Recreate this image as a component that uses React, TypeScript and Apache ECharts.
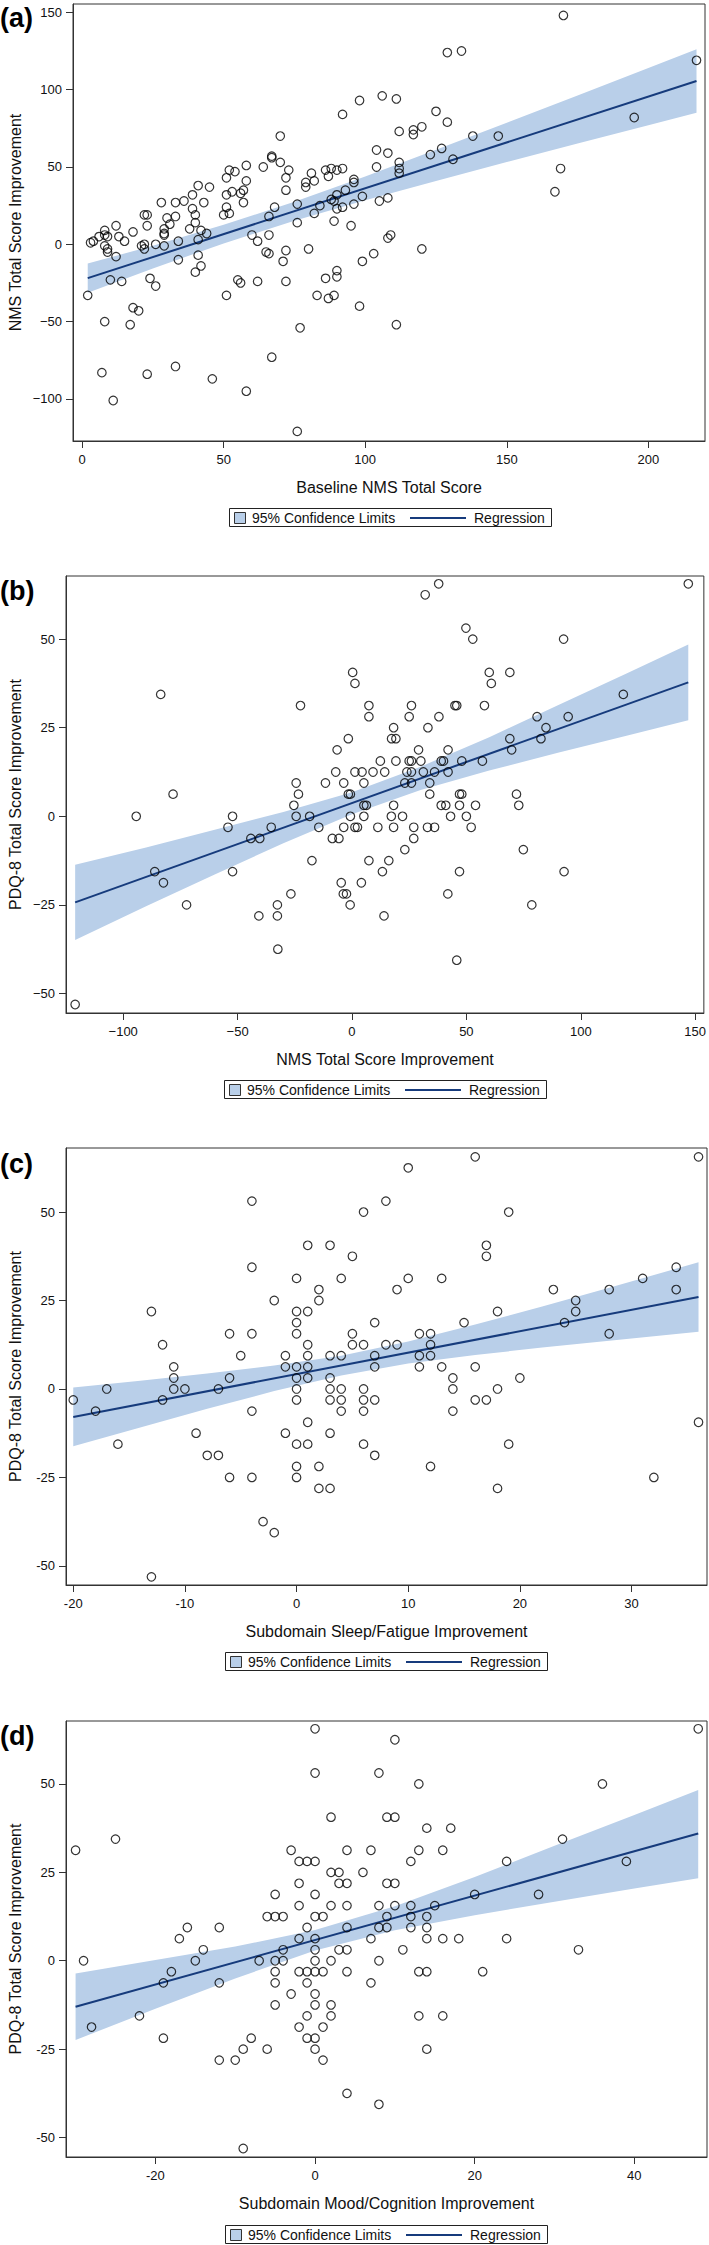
import React, { useEffect, useRef } from "react";
import * as echarts from "echarts";

// ---------------- DATA ----------------
// Panel (a): Baseline NMS Total Score vs NMS Total Score Improvement
const aPoints: number[][] = [
  [170,148],[129,124],[134,125],[217,119],
  [98,93],[106,96],[111,94],[92,84],[125,86],[195,82],[129,79],
  [112,73],[117,74],[117,71],[120,76],[138,70],[147,70],[70,70],
  [104,61],[108,59],[127,62],[123,58],[131,55],
  [67,57],[67,56],[64,50],[70,53],[58,51],
  [104,50],[112,53],[112,49],[112,46],
  [73,48],[72,43],[72,35],
  [52,48],[54,47],[51,43],[58,41],
  [41,38],[45,37],
  [86,48],[88,49],[90,48],[92,49],[81,46],[87,44],[82,41],[79,40],[79,37],
  [96,42],[96,40],
  [57,35],[56,33],[53,34],
  [39,32],[51,32],
  [90,32],[88,29],[99,31],[93,35],
  [28,27],[33,27],[36,28],[43,27],
  [57,27],[51,24],[68,24],[76,26],[96,26],[105,28],[108,30],
  [89,28],[90,23],[92,24],[84,25],
  [39,23],[40,19],[50,19],[52,20],
  [22,19],[23,19],
  [66,18],[82,20],
  [30,17],[33,18],[31,13],
  [40,14],
  [12,12],[23,12],
  [89,15],[76,14],[95,12],
  [29,10],[29,7],[29,6],[18,8],[38,10],
  [42,9],[44,7],[41,3],
  [8,9],[6,5],[9,5],[13,5],[8,6],
  [60,6],[62,2],[66,6],
  [108,4],[109,6],
  [3,1],[4,2],[15,2],[34,2],
  [22,0],
  [169,49],[167,34],
  [8,-1],[9,-3],[9,-5],[12,-8],[21,-1],[22,-3],[26,0],[29,-1],[34,-10],[41,-7],[42,-14],
  [65,-5],[66,-6],[71,-11],[72,-4],[80,-3],
  [99,-11],[103,-6],[120,-3],
  [2,-33],[10,-23],[14,-24],[24,-22],[26,-27],
  [40,-18],[51,-33],[55,-23],[56,-25],[62,-24],[72,-24],
  [86,-22],[90,-17],[90,-21],[83,-33],[87,-35],[89,-33],
  [18,-41],[20,-43],[8,-50],[17,-52],
  [98,-40],[77,-54],[111,-52],
  [67,-73],
  [7,-83],[23,-84],[33,-79],[46,-87],
  [58,-95],[11,-101],
  [76,-121],
];
const aRegression: number[][] = [[2,-21.9],[217,105.6]];
// [x, lower, upper]
const aBand: number[][] = [
  [2,-31.4,-12.4],[25,-15.6,-1.0],[50,0.6,12.6],[75,15.3,27.5],[100,28.5,43.9],
  [125,40.9,61.1],[150,53.2,78.6],[175,65.2,96.2],[200,77.0,114.0],[217,85.0,126.2],
];
const aXTicks = [0,50,100,150,200];
const aYTicks = [-100,-50,0,50,100,150];

// Panel (b): NMS Total Score Improvement vs PDQ-8 Total Score Improvement
const bPoints: number[][] = [
  [37.9,65.6],[32,62.5],[147,65.6],[49.8,53.1],[52.8,50],[92.5,50],
  [0.3,40.6],[60,40.6],[69,40.6],
  [1.3,37.5],[60.9,37.5],
  [-83.6,34.4],[118.6,34.4],
  [-22.5,31.25],[7.4,31.25],[26,31.25],[45,31.25],[45.8,31.25],[57.9,31.25],
  [7.4,28.1],[25,28.1],[38,28.1],[80.9,28.1],[94.5,28.1],
  [18.2,25],[33.2,25],[84.8,25],
  [-1.6,21.9],[17.3,21.9],[19.2,21.9],[69,21.9],[82.6,21.9],
  [-6.5,18.75],[29.1,18.75],[42,18.75],[69.8,18.75],
  [12.4,15.6],[19.2,15.6],[25,15.6],[26,15.6],[30.1,15.6],[39,15.6],[40,15.6],[48,15.6],[57,15.6],
  [-7.1,12.5],[1.3,12.5],[4.4,12.5],[9.2,12.5],[14.3,12.5],[24,12.5],[26,12.5],[31.2,12.5],[36.1,12.5],[42,12.5],
  [-24.4,9.4],[-11.6,9.4],[-3.6,9.4],[5.2,9.4],[23.1,9.4],[26,9.4],[34,9.4],
  [-78.2,6.25],[-23.4,6.25],[-1.6,6.25],[-0.7,6.25],[34,6.25],[47,6.25],[48,6.25],[71.9,6.25],
  [-25.4,3.1],[5.2,3.1],[6.3,3.1],[18.2,3.1],[39,3.1],[41,3.1],[47,3.1],[54,3.1],[72.9,3.1],
  [-94.3,0],[-52.2,0],[-24.4,0],[-18.5,0],[-0.7,0],[5.2,0],[17.2,0],[22.1,0],[43.1,0],[50,0],
  [-54.2,-3.1],[-35.3,-3.1],[-14.5,-3.1],[-3.6,-3.1],[1.3,-3.1],[2.4,-3.1],[11.3,-3.1],[18.2,-3.1],[27,-3.1],[33,-3.1],[36.1,-3.1],[52.1,-3.1],
  [-44.2,-6.25],[-40.3,-6.25],[-8.6,-6.25],[-5.7,-6.25],[27,-6.25],
  [23.1,-9.4],[74.9,-9.4],
  [-17.5,-12.5],[7.4,-12.5],[16.1,-12.5],
  [-86.2,-15.6],[-52.2,-15.6],[13.3,-15.6],[47,-15.6],[92.7,-15.6],
  [-82.4,-18.75],[-4.7,-18.75],[4.1,-18.75],
  [-26.7,-21.9],[-3.8,-21.9],[-2.4,-21.9],[41.9,-21.9],
  [-72.3,-25],[-32.6,-25],[-0.8,-25],[78.6,-25],
  [-40.7,-28.1],[-32.6,-28.1],[14,-28.1],
  [-32.4,-37.5],[45.8,-40.6],[-121,-53.1],
];
const bRegression: number[][] = [[-121,-24.3],[147,37.8]];
const bBand: number[][] = [
  [-121,-34.9,-13.7],[-90,-25.4,-8.8],[-60,-16.4,-3.8],[-30,-7.6,1.2],[0,0.6,6.8],
  [30,7.4,14.0],[60,12.9,22.3],[90,17.9,31.3],[120,22.7,40.3],[147,27.1,48.5],
];
const bXTicks = [-100,-50,0,50,100,150];
const bYTicks = [-50,-25,0,25,50];

// Panel (c): Subdomain Sleep/Fatigue Improvement vs PDQ-8 Total Score Improvement
const cPoints: number[][] = [
  [16,65.6],[36,65.6],[10,62.5],[-4,53.1],[8,53.1],[6,50],[19,50],
  [1,40.6],[3,40.6],[17,40.6],[5,37.5],[17,37.5],
  [-4,34.4],[34,34.4],
  [0,31.25],[4,31.25],[10,31.25],[13,31.25],[31,31.25],
  [2,28.1],[9,28.1],[23,28.1],[28,28.1],[34,28.1],
  [-2,25],[2,25],[25,25],
  [-13,21.9],[0,21.9],[1,21.9],[18,21.9],[25,21.9],
  [0,18.75],[7,18.75],[15,18.75],[24,18.75],
  [-6,15.6],[-4,15.6],[0,15.6],[5,15.6],[11,15.6],[12,15.6],[28,15.6],
  [-12,12.5],[1,12.5],[5,12.5],[6,12.5],[8,12.5],[9,12.5],[12,12.5],
  [-5,9.4],[-1,9.4],[1,9.4],[3,9.4],[4,9.4],[7,9.4],[11,9.4],[12,9.4],
  [-11,6.25],[-1,6.25],[0,6.25],[1,6.25],[7,6.25],[11,6.25],[13,6.25],[16,6.25],
  [-11,3.1],[-6,3.1],[0,3.1],[1,3.1],[3,3.1],[14,3.1],[20,3.1],
  [-17,0],[-11,0],[-10,0],[-7,0],[0,0],[3,0],[4,0],[6,0],[14,0],[18,0],
  [-20,-3.1],[-12,-3.1],[0,-3.1],[3,-3.1],[4,-3.1],[6,-3.1],[7,-3.1],[16,-3.1],[17,-3.1],
  [-18,-6.25],[-4,-6.25],[4,-6.25],[6,-6.25],[14,-6.25],
  [1,-9.4],[36,-9.4],
  [-9,-12.5],[-1,-12.5],[3,-12.5],
  [-16,-15.6],[0,-15.6],[1,-15.6],[6,-15.6],[19,-15.6],
  [-8,-18.75],[-7,-18.75],[7,-18.75],
  [0,-21.9],[2,-21.9],[12,-21.9],
  [-6,-25],[-4,-25],[0,-25],[32,-25],
  [2,-28.1],[3,-28.1],[18,-28.1],
  [-3,-37.5],[-2,-40.6],[-13,-53.1],
];
const cRegression: number[][] = [[-20,-7.9],[36,26]];
const cBand: number[][] = [
  [-20,-16.2,0.4],[-14,-10.9,2.3],[-8,-5.6,4.4],[-2,-0.6,6.6],[4,3.8,9.4],
  [10,7.2,13.4],[16,9.6,18.2],[22,11.7,23.3],[28,13.6,28.6],[36,16.2,35.8],
];
const cXTicks = [-20,-10,0,10,20,30];
const cYTicks = [-50,-25,0,25,50];

// Panel (d): Subdomain Mood/Cognition Improvement vs PDQ-8 Total Score Improvement
const dPoints: number[][] = [
  [0,65.6],[48,65.6],[10,62.5],[0,53.1],[8,53.1],[13,50],[36,50],
  [2,40.6],[9,40.6],[10,40.6],[14,37.5],[17,37.5],
  [-25,34.4],[31,34.4],
  [-30,31.25],[-3,31.25],[4,31.25],[7,31.25],[13,31.25],[16,31.25],
  [-2,28.1],[-1,28.1],[0,28.1],[12,28.1],[24,28.1],[39,28.1],
  [2,25],[3,25],[6,25],
  [-2,21.9],[3,21.9],[4,21.9],[9,21.9],[10,21.9],
  [-5,18.75],[0,18.75],[20,18.75],[28,18.75],
  [-2,15.6],[2,15.6],[4,15.6],[8,15.6],[10,15.6],[12,15.6],[15,15.6],
  [-6,12.5],[-5,12.5],[-4,12.5],[0,12.5],[1,12.5],[9,12.5],[12,12.5],[14,12.5],
  [-16,9.4],[-12,9.4],[-1,9.4],[4,9.4],[8,9.4],[9,9.4],[12,9.4],[14,9.4],
  [-17,6.25],[-2,6.25],[0,6.25],[7,6.25],[14,6.25],[16,6.25],[18,6.25],[24,6.25],
  [-14,3.1],[-4,3.1],[0,3.1],[3,3.1],[4,3.1],[11,3.1],[33,3.1],
  [-29,0],[-15,0],[-7,0],[-5,0],[-4,0],[0,0],[2,0],[8,0],
  [-18,-3.1],[-5,-3.1],[-2,-3.1],[-1,-3.1],[0,-3.1],[1,-3.1],[4,-3.1],[13,-3.1],[14,-3.1],[21,-3.1],
  [-19,-6.25],[-12,-6.25],[-5,-6.25],[-1,-6.25],[7,-6.25],
  [-3,-9.4],[0,-9.4],
  [-5,-12.5],[0,-12.5],[2,-12.5],
  [-22,-15.6],[-1,-15.6],[2,-15.6],[13,-15.6],[16,-15.6],
  [-28,-18.75],[-2,-18.75],[1,-18.75],
  [-19,-21.9],[-8,-21.9],[-1,-21.9],[0,-21.9],
  [-9,-25],[-6,-25],[0,-25],[14,-25],
  [-12,-28.1],[-10,-28.1],[1,-28.1],
  [4,-37.5],[8,-40.6],[-9,-53.1],
];
const dRegression: number[][] = [[-30,-13],[48,36]];
const dBand: number[][] = [
  [-30,-22.4,-3.6],[-20,-13.6,0.2],[-10,-5.0,4.0],[0,2.9,8.7],[10,8.6,15.4],
  [20,12.9,23.7],[30,16.7,32.5],[40,20.4,41.2],[48,23.3,48.3],
];
const dXTicks = [-20,0,20,40];
const dYTicks = [-50,-25,0,25,50];

const panelLetters = ["(a)", "(b)", "(c)", "(d)"];
const xTitles = [
  "Baseline NMS Total Score",
  "NMS Total Score Improvement",
  "Subdomain Sleep/Fatigue Improvement",
  "Subdomain Mood/Cognition Improvement",
];
const yTitles = [
  "NMS Total Score Improvement",
  "PDQ-8 Total Score Improvement",
  "PDQ-8 Total Score Improvement",
  "PDQ-8 Total Score Improvement",
];
const legendBandLabel = "95% Confidence Limits";
const legendLineLabel = "Regression";

// ---------------- STYLE / LAYOUT ----------------
const FONT = '"Liberation Sans", Arial, Helvetica, sans-serif';
const BAND = "#b9cfe9";
const NAVY = "#163b7c";
const AXIS = "#333333";

const layouts = [
  { grid: { left: 73, top: 4, width: 632, height: 437 }, x: [-3.2, 220], y: [-127.2, 155.4], minus: "\u2212", letterY: 4, xTitleY: 487, legend: [229, 508] },
  { grid: { left: 66, top: 576, width: 638, height: 437 }, x: [-125, 153.8], y: [-55.5, 67.8], minus: "\u2212", letterY: 577, xTitleY: 1059, legend: [224, 1080] },
  { grid: { left: 66, top: 1148, width: 641, height: 437 }, x: [-20.65, 36.76], y: [-55.4, 68.1], minus: "-", letterY: 1150, xTitleY: 1631, legend: [225, 1652] },
  { grid: { left: 66, top: 1721, width: 641, height: 436 }, x: [-31.2, 49.1], y: [-55.5, 67.8], minus: "-", letterY: 1722, xTitleY: 2203, legend: [225, 2225] },
];

const panelData = [
  { points: aPoints, reg: aRegression, band: aBand, xt: aXTicks, yt: aYTicks },
  { points: bPoints, reg: bRegression, band: bBand, xt: bXTicks, yt: bYTicks },
  { points: cPoints, reg: cRegression, band: cBand, xt: cXTicks, yt: cYTicks },
  { points: dPoints, reg: dRegression, band: dBand, xt: dXTicks, yt: dYTicks },
];

function buildOption() {
  const grids: any[] = [];
  const xAxes: any[] = [];
  const yAxes: any[] = [];
  const series: any[] = [];
  const graphics: any[] = [];

  panelData.forEach((pd, i) => {
    const L = layouts[i];
    const fmt = (v: number) => (v < 0 ? L.minus + Math.abs(v) : String(v));
    grids.push({ ...L.grid, show: true, borderColor: AXIS, borderWidth: 1, containLabel: false });
    xAxes.push({
      gridIndex: i, type: "value", min: L.x[0], max: L.x[1],
      axisLine: { show: true, onZero: false, lineStyle: { color: AXIS, width: 1 } },
      axisTick: { show: true, length: 7, customValues: pd.xt, lineStyle: { color: AXIS } },
      axisLabel: { customValues: pd.xt, formatter: fmt, fontSize: 13, fontFamily: FONT, color: "#111", margin: 12 },
      splitLine: { show: false },
    });
    yAxes.push({
      gridIndex: i, type: "value", min: L.y[0], max: L.y[1],
      axisLine: { show: true, onZero: false, lineStyle: { color: AXIS, width: 1 } },
      axisTick: { show: true, length: 7, customValues: pd.yt, lineStyle: { color: AXIS } },
      axisLabel: { customValues: pd.yt, formatter: fmt, fontSize: 13, fontFamily: FONT, color: "#111", margin: 11 },
      splitLine: { show: false },
    });
    const band = pd.band;
    series.push({
      type: "custom", xAxisIndex: i, yAxisIndex: i, z: 1, silent: true,
      data: band,
      encode: { x: 0, y: [1, 2] },
      renderItem: (params: any, api: any) => {
        if (params.dataIndex !== 0) return null;
        const upper = band.map((b) => api.coord([b[0], b[2]]));
        const lower = band.slice().reverse().map((b) => api.coord([b[0], b[1]]));
        return { type: "polygon", shape: { points: upper.concat(lower) }, style: { fill: BAND, stroke: null } };
      },
    });
    series.push({
      type: "line", xAxisIndex: i, yAxisIndex: i, z: 3, silent: true,
      data: pd.reg, symbol: "none", lineStyle: { color: NAVY, width: 2 },
    });
    series.push({
      type: "scatter", xAxisIndex: i, yAxisIndex: i, z: 4, silent: true,
      data: pd.points, symbol: "circle", symbolSize: 8.5,
      itemStyle: { color: "rgba(0,0,0,0)", borderColor: "#000", borderWidth: 1.2 },
    });

    const g = L.grid;
    graphics.push({ type: "text", x: 0, y: L.letterY, style: { text: panelLetters[i], font: `bold 27px ${FONT}`, fill: "#000", verticalAlign: "top" } });
    graphics.push({ type: "text", x: g.left + g.width / 2, y: L.xTitleY, style: { text: xTitles[i], font: `16px ${FONT}`, fill: "#111", align: "center", verticalAlign: "middle" } });
    graphics.push({ type: "text", x: 15, y: g.top + g.height / 2, rotation: Math.PI / 2, style: { text: yTitles[i], font: `16px ${FONT}`, fill: "#111", align: "center", verticalAlign: "middle" } });
    const [lx, ly] = L.legend;
    graphics.push({ type: "rect", shape: { x: lx + 0.5, y: ly + 0.5, width: 322, height: 18 }, style: { fill: "#fff", stroke: "#222", lineWidth: 1 } });
    graphics.push({ type: "rect", shape: { x: lx + 5.5, y: ly + 4.5, width: 11, height: 11 }, style: { fill: BAND, stroke: "#333", lineWidth: 1 } });
    graphics.push({ type: "text", x: lx + 23, y: ly + 10, style: { text: legendBandLabel, font: `14px ${FONT}`, fill: "#111", verticalAlign: "middle" } });
    graphics.push({ type: "line", shape: { x1: lx + 181, y1: ly + 10, x2: lx + 237, y2: ly + 10 }, style: { stroke: NAVY, lineWidth: 2 } });
    graphics.push({ type: "text", x: lx + 245, y: ly + 10, style: { text: legendLineLabel, font: `14px ${FONT}`, fill: "#111", verticalAlign: "middle" } });
  });

  return {
    animation: false,
    backgroundColor: "#fff",
    grid: grids,
    xAxis: xAxes,
    yAxis: yAxes,
    series,
    graphic: graphics,
  };
}

export default function App() {
  const ref = useRef<HTMLDivElement>(null);
  useEffect(() => {
    document.body.style.margin = "0";
    if (!ref.current) return;
    const chart = echarts.init(ref.current, null, { renderer: "svg" });
    chart.setOption(buildOption() as any);
    return () => chart.dispose();
  }, []);
  return <div ref={ref} style={{ width: 709, height: 2245 }} />;
}
